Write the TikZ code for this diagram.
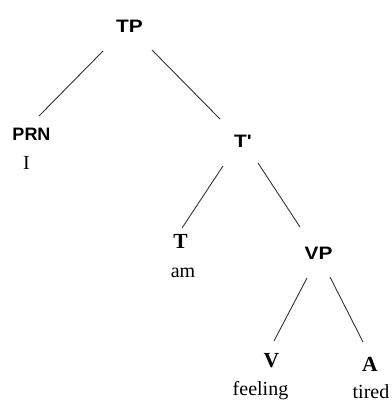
\documentclass[tikz,border=0pt]{standalone}
\usepackage{fontspec}
\setmainfont{Liberation Serif}
\newfontfamily\labelsans{Liberation Sans}
\usetikzlibrary{calc}
\newcommand{\widecat}[1]{\scalebox{1.16}[1]{#1}}
\begin{document}
\begin{tikzpicture}[x=1pt,y=-1pt,
  cat/.style={font=\labelsans\bfseries\fontsize{18}{18}\selectfont, anchor=base, inner sep=0pt},
  headcat/.style={font=\bfseries\fontsize{21.5}{21.5}\selectfont, anchor=base, inner sep=0pt},
  word/.style={font=\fontsize{20}{20}\selectfont, anchor=base, inner sep=0pt},
  branch/.style={draw=black!80, line width=0.9pt}]
\useasboundingbox (0,0) rectangle (391,401);

% category labels and words (placed on their baselines)
\node[cat] (TP) at (129.5,32.5) {\widecat{TP}};
\node[cat] (PRN) at (31.5,140.5) {PRN};
\node[word] (I) at (26.5,169) {I};
\node[cat] (Tbar) at (243,147.5) {\widecat{T\textquotesingle}};
\node[headcat] (T) at (180.5,248.5) {T};
\node[word] (am) at (183,277) {am};
\node[cat] (VP) at (318.5,259.5) {\widecat{VP}};
\node[headcat] (V) at (271.5,367) {V};
\node[word] (feeling) at (260.5,395) {feeling};
\node[headcat] (A) at (370,371) {A};
\node[word] (tired) at (371,398.5) {tired};

% branches
\draw[branch] ($(TP.base)+(-26.5,18.5)$) -- ($(PRN.base)+(7.5,-24.5)$);
\draw[branch] ($(TP.base)+(22.5,17.5)$) -- ($(Tbar.base)+(-23,-28.5)$);
\draw[branch] ($(Tbar.base)+(-20,18.5)$) -- ($(T.base)+(1.5,-20.5)$);
\draw[branch] ($(Tbar.base)+(15,15.5)$) -- ($(VP.base)+(-18.5,-32.5)$);
\draw[branch] ($(VP.base)+(-11.5,18.5)$) -- ($(V.base)+(2.5,-26)$);
\draw[branch] ($(VP.base)+(11.5,17.5)$) -- ($(A.base)+(-7,-29)$);
\end{tikzpicture}
\end{document}
